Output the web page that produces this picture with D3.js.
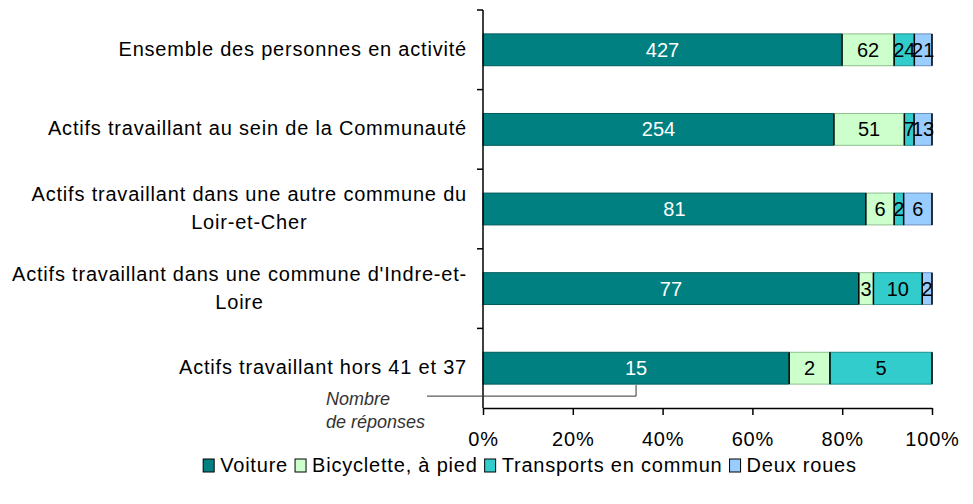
<!DOCTYPE html>
<html>
<head>
<meta charset="utf-8">
<script src="https://cdn.jsdelivr.net/npm/d3@7"></script>
<style>
  body { margin: 0; background: #fff; }
  text { font-family: "Liberation Sans", Arial, sans-serif; letter-spacing: 0.8px; }
</style>
</head>
<body>
<div id="canvas"></div>
<script>
"use strict"

/* Drawing config */
let svgWidth = 973;
let svgHeight = 504;
let plotLeft = 483;
let plotRight = 932;
let plotTop = 10;
let plotBottom = 408;
let fontSize = "20px";

let svg = d3.select("#canvas")
    .append("svg")
    .attr("width", svgWidth)
    .attr("height", svgHeight);

let modes = [
    { key: "voiture", label: "Voiture", color: "#008080", stroke: "#005a5a", text: "#fff" },
    { key: "velo", label: "Bicyclette, à pied", color: "#ccffcc", stroke: "#8fbf8f", text: "#000" },
    { key: "tc", label: "Transports en commun", color: "#33cccc", stroke: "#1e8f8f", text: "#000" },
    { key: "deux", label: "Deux roues", color: "#99ccff", stroke: "#6a8fbf", text: "#000" }
];

let dataset = [
    { name: ["Ensemble des personnes en activité"], voiture: 427, velo: 62, tc: 24, deux: 21 },
    { name: ["Actifs travaillant au sein de la Communauté"], voiture: 254, velo: 51, tc: 7, deux: 13 },
    { name: ["Actifs travaillant dans une autre commune du", "Loir-et-Cher"], voiture: 81, velo: 6, tc: 2, deux: 6 },
    { name: ["Actifs travaillant dans une commune d'Indre-et-", "Loire"], voiture: 77, velo: 3, tc: 10, deux: 2 },
    { name: ["Actifs travaillant hors 41 et 37"], voiture: 15, velo: 2, tc: 5, deux: 0 }
];

let xScale = d3.scaleLinear()
    .domain([0, 1])
    .range([plotLeft, plotRight]);

let yScale = d3.scaleBand()
    .domain(d3.range(dataset.length))
    .range([plotTop, plotBottom])
    .paddingInner(0.6)
    .paddingOuter(0.3);

// build segments (share of each row total)
let segments = [];
dataset.forEach(function(d, i) {
    let total = d3.sum(modes, m => d[m.key]);
    let acc = 0;
    modes.forEach(function(m, j) {
        let v = d[m.key];
        segments.push({ row: i, mode: m, index: j, value: v, x0: acc / total, x1: (acc + v) / total });
        acc += v;
    });
});
segments = segments.filter(s => s.value > 0);

svg.selectAll(".seg")
    .data(segments)
    .join("rect")
    .attr("class", "seg")
    .attr("x", d => xScale(d.x0))
    .attr("y", d => yScale(d.row))
    .attr("width", d => xScale(d.x1) - xScale(d.x0))
    .attr("height", yScale.bandwidth())
    .attr("fill", d => d.mode.color)
    .attr("stroke", d => d.mode.stroke)
    .attr("stroke-width", 1);

// black separators between segments and at end
svg.selectAll(".sep")
    .data(segments.filter(s => s.index > 0))
    .join("line")
    .attr("class", "sep")
    .attr("x1", d => xScale(d.x0))
    .attr("x2", d => xScale(d.x0))
    .attr("y1", d => yScale(d.row))
    .attr("y2", d => yScale(d.row) + yScale.bandwidth())
    .attr("stroke", "#000")
    .attr("stroke-width", 1.5);

svg.selectAll(".endsep")
    .data(dataset)
    .join("line")
    .attr("class", "endsep")
    .attr("x1", xScale(1))
    .attr("x2", xScale(1))
    .attr("y1", (d, i) => yScale(i))
    .attr("y2", (d, i) => yScale(i) + yScale.bandwidth())
    .attr("stroke", "#000")
    .attr("stroke-width", 1.5);

// value labels (the reference overlaps "24" and "21" too)
svg.selectAll(".val")
    .data(segments)
    .join("text")
    .attr("class", "val")
    .attr("x", d => (xScale(d.x0) + xScale(d.x1)) / 2)
    .attr("y", d => yScale(d.row) + yScale.bandwidth() / 2)
    .attr("text-anchor", "middle")
    .attr("dominant-baseline", "central")
    .attr("fill", d => d.mode.text)
    .style("font-size", fontSize)
    .style("letter-spacing", "0px")
    .text(d => d.value);

// Y axis line and ticks at category boundaries
svg.append("line")
    .attr("x1", plotLeft)
    .attr("x2", plotLeft)
    .attr("y1", plotTop)
    .attr("y2", plotBottom)
    .attr("stroke", "#000")
    .attr("stroke-width", 1.5);

let step = yScale.step();
svg.selectAll(".ytick")
    .data(d3.range(dataset.length))
    .join("line")
    .attr("class", "ytick")
    .attr("x1", plotLeft - 6)
    .attr("x2", plotLeft)
    .attr("y1", d => plotTop + d * step)
    .attr("y2", d => plotTop + d * step)
    .attr("stroke", "#000")
    .attr("stroke-width", 1.5);

// category labels (block right aligned, lines centered)
let labelRight = 467;
dataset.forEach(function(d, i) {
    let cy = yScale(i) + yScale.bandwidth() / 2 - 1;
    let lineH = 28;
    let g = svg.append("g");
    let widths = [];
    d.name.forEach(function(line, k) {
        let t = g.append("text")
            .attr("y", cy + (k - (d.name.length - 1) / 2) * lineH)
            .attr("dominant-baseline", "central")
            .style("font-size", fontSize)
            .text(line);
        widths.push(t.node().getComputedTextLength());
    });
    let maxW = d3.max(widths);
    let center = labelRight - maxW / 2;
    g.selectAll("text")
        .attr("x", center)
        .attr("text-anchor", "middle");
});

// X axis
let xAxis = d3.axisBottom(xScale)
    .tickValues([0, 0.2, 0.4, 0.6, 0.8, 1])
    .tickFormat(d3.format(".0%"))
    .tickSize(7)
    .tickSizeOuter(0);

let gx = svg.append("g")
    .attr("transform", "translate(0," + plotBottom + ")")
    .call(xAxis);
gx.select(".domain").attr("stroke-width", 1.5);
gx.selectAll(".tick line").attr("stroke-width", 1.5);
gx.selectAll(".tick text")
    .attr("y", 24)
    .style("font-size", fontSize)
    .style("font-family", "'Liberation Sans', Arial, sans-serif");

// annotation "Nombre de réponses"
let lastSeg = segments.find(s => s.row === 4 && s.index === 0);
let annX = (xScale(lastSeg.x0) + xScale(lastSeg.x1)) / 2;
let barBottom = yScale(4) + yScale.bandwidth();
svg.append("path")
    .attr("d", "M427," + (barBottom + 12) + "H" + annX + "V" + (barBottom + 1))
    .attr("fill", "none")
    .attr("stroke", "#333")
    .attr("stroke-width", 1);

svg.append("text")
    .attr("x", 326)
    .attr("y", 405)
    .style("font-size", "18px")
    .style("font-style", "italic")
    .style("letter-spacing", "0px")
    .attr("fill", "#333")
    .text("Nombre");
svg.append("text")
    .attr("x", 326)
    .attr("y", 428)
    .style("font-size", "18px")
    .style("font-style", "italic")
    .style("letter-spacing", "0px")
    .attr("fill", "#333")
    .text("de réponses");

// legend
let legend = svg.append("g");
let lx = 0;
modes.forEach(function(m) {
    legend.append("rect")
        .attr("x", lx)
        .attr("y", -6)
        .attr("width", 11)
        .attr("height", 13)
        .attr("fill", m.color)
        .attr("stroke", "#000")
        .attr("stroke-width", 1);
    let t = legend.append("text")
        .attr("x", lx + 17)
        .attr("y", 0)
        .attr("dominant-baseline", "central")
        .style("font-size", fontSize)
        .text(m.label);
    lx += 17 + t.node().getComputedTextLength() + 7;
});
let legendW = lx - 7;
legend.attr("transform", "translate(" + (530 - legendW / 2) + ",465)");
</script>
</body>
</html>
